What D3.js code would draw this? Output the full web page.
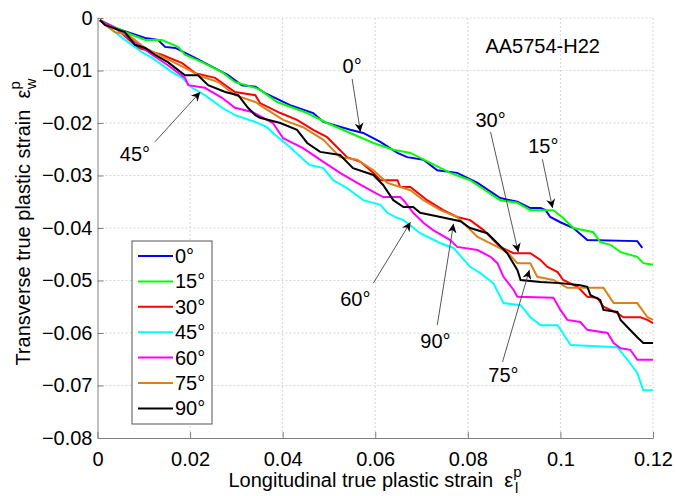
<!DOCTYPE html>
<html lang="en">
<head>
  <meta charset="UTF-8">
  <title>AA5754-H22 plastic strain</title>
  <script src="https://d3js.org/d3.v7.min.js"></script>
  <style>
    * { margin: 0; padding: 0; box-sizing: border-box; }
    body { background: #fff; font-family: Arial, "Liberation Sans", sans-serif; }
    text { font-family: Arial, "Liberation Sans", sans-serif; fill: #000; white-space: pre; }
  </style>
</head>
<body>
  <div id="chart"></div>

  <script>
    // series labels and colours (MATLAB style)
    const angles = ["0°", "15°", "30°", "45°", "60°", "75°", "90°"];
    const colors = ["#0000ff", "#00ff00", "#ff0000", "#00ffff", "#ff00ff", "#d9821a", "#000000"];

    const xTicks = [0, 0.02, 0.04, 0.06, 0.08, 0.1, 0.12];
    const yTicks = [0, -0.01, -0.02, -0.03, -0.04, -0.05, -0.06, -0.07, -0.08];

    // [longitudinal strain, transverse strain]
    const s0 = [[0.0005,-0.0004],[0.0038,-0.0019],[0.0103,-0.0038],[0.0131,-0.0042],[0.0146,-0.0055],[0.0168,-0.0057],[0.0211,-0.0076],[0.0248,-0.0093],[0.0282,-0.0109],[0.0312,-0.0128],[0.0341,-0.0131],[0.0362,-0.0143],[0.0416,-0.0166],[0.0466,-0.0181],[0.0488,-0.0198],[0.0546,-0.0213],[0.0574,-0.0219],[0.0611,-0.0236],[0.0648,-0.0257],[0.0669,-0.0265],[0.0704,-0.0270],[0.0734,-0.0290],[0.0777,-0.0295],[0.0821,-0.0314],[0.0870,-0.0343],[0.0907,-0.0350],[0.0935,-0.0362],[0.0957,-0.0362],[0.0968,-0.0366],[0.0978,-0.0379],[0.1000,-0.0389],[0.1028,-0.0400],[0.1058,-0.0423],[0.1166,-0.0425],[0.1177,-0.0438]];
    const s15 = [[0.0005,-0.0004],[0.0066,-0.0029],[0.0103,-0.0042],[0.0139,-0.0042],[0.0174,-0.0055],[0.0189,-0.0070],[0.0226,-0.0084],[0.0269,-0.0103],[0.0297,-0.0122],[0.0341,-0.0133],[0.0351,-0.0137],[0.0388,-0.0160],[0.0453,-0.0181],[0.0496,-0.0200],[0.0546,-0.0219],[0.0596,-0.0238],[0.0639,-0.0251],[0.0676,-0.0257],[0.0719,-0.0276],[0.0762,-0.0295],[0.0805,-0.0309],[0.0842,-0.0331],[0.0870,-0.0347],[0.0907,-0.0352],[0.0935,-0.0366],[0.0985,-0.0366],[0.1006,-0.0381],[0.1028,-0.0400],[0.1071,-0.0408],[0.1086,-0.0427],[0.1108,-0.0432],[0.1130,-0.0446],[0.1166,-0.0455],[0.1179,-0.0467],[0.12,-0.0470]];
    const s30 = [[0.0005,-0.0004],[0.0016,-0.0010],[0.0044,-0.0023],[0.0088,-0.0057],[0.0139,-0.0070],[0.0183,-0.0086],[0.0211,-0.0105],[0.0254,-0.0114],[0.0297,-0.0141],[0.0341,-0.0147],[0.0351,-0.0162],[0.0395,-0.0181],[0.0431,-0.0194],[0.0466,-0.0213],[0.0496,-0.0227],[0.0539,-0.0265],[0.0568,-0.0274],[0.0596,-0.0295],[0.0611,-0.0309],[0.0648,-0.0309],[0.0654,-0.0322],[0.0676,-0.0322],[0.0712,-0.0347],[0.0747,-0.0366],[0.0777,-0.0379],[0.0805,-0.0385],[0.0834,-0.0404],[0.0870,-0.0436],[0.0899,-0.0448],[0.0935,-0.0448],[0.0957,-0.0461],[0.0972,-0.0474],[0.0994,-0.0484],[0.1006,-0.0499],[0.1037,-0.0512],[0.1058,-0.0531],[0.1080,-0.0533],[0.1093,-0.0550],[0.1123,-0.0562],[0.1136,-0.0570],[0.1173,-0.0570],[0.1188,-0.0575],[0.12,-0.0581]];
    const s45 = [[0.0005,-0.0004],[0.0038,-0.0027],[0.0066,-0.0046],[0.0096,-0.0065],[0.0118,-0.0076],[0.0161,-0.0103],[0.0183,-0.0114],[0.0204,-0.0133],[0.0232,-0.0147],[0.0269,-0.0171],[0.0297,-0.0185],[0.0341,-0.0198],[0.0366,-0.0208],[0.0379,-0.0219],[0.0416,-0.0246],[0.0453,-0.0276],[0.0459,-0.0280],[0.0488,-0.0286],[0.0509,-0.0309],[0.0539,-0.0324],[0.0574,-0.0347],[0.0611,-0.0356],[0.0626,-0.0371],[0.0648,-0.0381],[0.0661,-0.0385],[0.0697,-0.0410],[0.0741,-0.0429],[0.0769,-0.0438],[0.0805,-0.0474],[0.0827,-0.0486],[0.0855,-0.0505],[0.0877,-0.0543],[0.0914,-0.0547],[0.0935,-0.0570],[0.0957,-0.0585],[0.0994,-0.0585],[0.1022,-0.0623],[0.1123,-0.0627],[0.1145,-0.0651],[0.1166,-0.0676],[0.1179,-0.0709],[0.12,-0.0709]];
    const s60 = [[0.0005,-0.0004],[0.0038,-0.0019],[0.0081,-0.0046],[0.0118,-0.0070],[0.0152,-0.0090],[0.0189,-0.0114],[0.0196,-0.0128],[0.0232,-0.0133],[0.0269,-0.0152],[0.0297,-0.0171],[0.0334,-0.0179],[0.0379,-0.0200],[0.0401,-0.0229],[0.0444,-0.0248],[0.0488,-0.0274],[0.0524,-0.0295],[0.0561,-0.0314],[0.0596,-0.0331],[0.0617,-0.0341],[0.0654,-0.0341],[0.0661,-0.0347],[0.0682,-0.0371],[0.0704,-0.0390],[0.0725,-0.0404],[0.0762,-0.0423],[0.0777,-0.0436],[0.0821,-0.0442],[0.0849,-0.0455],[0.0864,-0.0467],[0.0877,-0.0493],[0.0899,-0.0518],[0.0907,-0.0531],[0.0985,-0.0533],[0.1000,-0.0556],[0.1015,-0.0575],[0.1043,-0.0579],[0.1058,-0.0594],[0.1102,-0.0600],[0.1115,-0.0619],[0.1130,-0.0629],[0.1151,-0.0632],[0.1166,-0.0651],[0.12,-0.0651]];
    const s75 = [[0.0005,-0.0004],[0.0016,-0.0013],[0.0038,-0.0027],[0.0066,-0.0032],[0.0103,-0.0057],[0.0146,-0.0076],[0.0189,-0.0095],[0.0226,-0.0112],[0.0261,-0.0122],[0.0297,-0.0147],[0.0341,-0.0160],[0.0351,-0.0166],[0.0401,-0.0194],[0.0444,-0.0208],[0.0488,-0.0232],[0.0524,-0.0265],[0.0561,-0.0270],[0.0596,-0.0290],[0.0626,-0.0314],[0.0654,-0.0322],[0.0676,-0.0328],[0.0704,-0.0347],[0.0741,-0.0366],[0.0777,-0.0379],[0.0799,-0.0398],[0.0821,-0.0417],[0.0864,-0.0436],[0.0885,-0.0446],[0.0907,-0.0467],[0.0935,-0.0467],[0.0950,-0.0493],[0.0985,-0.0499],[0.1015,-0.0514],[0.1093,-0.0514],[0.1115,-0.0543],[0.1166,-0.0543],[0.1188,-0.0570],[0.12,-0.0575]];
    const s90 = [[0.0005,-0.0004],[0.0016,-0.0013],[0.0059,-0.0027],[0.0081,-0.0051],[0.0103,-0.0057],[0.0124,-0.0070],[0.0152,-0.0084],[0.0168,-0.0095],[0.0189,-0.0109],[0.0217,-0.0109],[0.0239,-0.0128],[0.0276,-0.0141],[0.0304,-0.0147],[0.0325,-0.0171],[0.0341,-0.0185],[0.0351,-0.0190],[0.0395,-0.0200],[0.0431,-0.0213],[0.0453,-0.0238],[0.0481,-0.0255],[0.0524,-0.0261],[0.0552,-0.0286],[0.0596,-0.0299],[0.0617,-0.0318],[0.0639,-0.0347],[0.0661,-0.0360],[0.0682,-0.0360],[0.0697,-0.0371],[0.0741,-0.0379],[0.0784,-0.0387],[0.0805,-0.0400],[0.0842,-0.0410],[0.0864,-0.0429],[0.0885,-0.0448],[0.0907,-0.0480],[0.0914,-0.0499],[0.0957,-0.0503],[0.1000,-0.0505],[0.1043,-0.0509],[0.1058,-0.0512],[0.1065,-0.0528],[0.1086,-0.0537],[0.1093,-0.0556],[0.1123,-0.0560],[0.1130,-0.0575],[0.1145,-0.0589],[0.1166,-0.0608],[0.1179,-0.0619],[0.12,-0.0619]];

    const series = [s0, s15, s30, s45, s60, s75, s90];

    // arrow notes: label, text spot, arrow tail, arrow tip (data units)
    const notes = [
      { label: "0°",  text: [0.0550, -0.0105], tail: [0.0550, -0.0116], tip: [0.0568, -0.0217] },
      { label: "15°", text: [0.0963, -0.0257], tail: [0.0961, -0.0269], tip: [0.0983, -0.0362] },
      { label: "30°", text: [0.0849, -0.0208], tail: [0.0849, -0.0217], tip: [0.0909, -0.0446] },
      { label: "45°", text: [0.0081, -0.0272], tail: [0.0124, -0.0236], tip: [0.0222, -0.0141] },
      { label: "60°", text: [0.0557, -0.0549], tail: [0.0596, -0.0505], tip: [0.0676, -0.0389] },
      { label: "90°", text: [0.0730, -0.0629], tail: [0.0734, -0.0585], tip: [0.0769, -0.0392] },
      { label: "75°", text: [0.0877, -0.0693], tail: [0.0875, -0.0655], tip: [0.0933, -0.0480] }
    ];

    const W = 676, H = 496;
    const margin = { top: 18, right: 23, bottom: 58, left: 97.5 };
    const width = W - margin.left - margin.right,
          height = H - margin.top - margin.bottom;

    const root = d3.select("#chart").append("svg")
      .attr("width", W).attr("height", H);

    root.append("defs").append("marker")
      .attr("id", "head")
      .attr("viewBox", "0 0 10 10")
      .attr("refX", 10).attr("refY", 5)
      .attr("markerWidth", 11).attr("markerHeight", 9)
      .attr("markerUnits", "userSpaceOnUse")
      .attr("orient", "auto")
      .append("path")
      .attr("d", "M0,0 L10,5 L0,10 L3,5 Z")
      .attr("fill", "#000");

    const svg = root.append("g")
      .attr("transform", `translate(${margin.left},${margin.top})`);

    const x = d3.scaleLinear().domain([0, 0.12]).range([0, width]);
    const y = d3.scaleLinear().domain([-0.08, 0]).range([height, 0]);

    // dotted grid
    svg.append("g")
      .selectAll("line.gx")
      .data(xTicks.slice(1))
      .join("line")
      .attr("x1", d => x(d)).attr("x2", d => x(d))
      .attr("y1", 0).attr("y2", height)
      .attr("stroke", "#d6d6d6").attr("stroke-dasharray", "2,2");

    svg.append("g")
      .selectAll("line.gy")
      .data(yTicks.slice(0, -1))
      .join("line")
      .attr("x1", 0).attr("x2", width)
      .attr("y1", d => y(d)).attr("y2", d => y(d))
      .attr("stroke", "#d6d6d6").attr("stroke-dasharray", "2,2");

    // axes, ticks pointing inwards
    const fmt = d => d === 0 ? "0" : d3.format("")(+d.toFixed(2));

    const xAxis = svg.append("g")
      .attr("transform", `translate(0,${height})`)
      .call(d3.axisBottom(x).tickValues(xTicks).tickFormat(fmt).tickSize(-6).tickSizeOuter(0).tickPadding(10));

    const yAxis = svg.append("g")
      .call(d3.axisLeft(y).tickValues(yTicks).tickFormat(fmt).tickSize(-6).tickSizeOuter(0).tickPadding(5));

    [xAxis, yAxis].forEach(a => {
      a.select(".domain").attr("stroke", "#808080");
      a.selectAll(".tick line").attr("stroke", "#808080");
      a.selectAll(".tick text")
        .style("font-size", "20px")
        .style("font-family", "Arial, 'Liberation Sans', sans-serif")
        .attr("fill", "#000");
    });
    xAxis.selectAll(".tick text").attr("dy", "0.9em");

    // curves
    const line = d3.line()
      .x(d => x(d[0]))
      .y(d => y(d[1]));

    svg.append("g")
      .selectAll("path")
      .data(series)
      .join("path")
      .attr("d", line)
      .attr("fill", "none")
      .attr("stroke", (d, i) => colors[i])
      .attr("stroke-width", 2)
      .attr("stroke-linejoin", "miter");

    // annotation arrows
    const ann = svg.append("g");
    ann.selectAll("line")
      .data(notes)
      .join("line")
      .attr("x1", d => x(d.tail[0])).attr("y1", d => y(d.tail[1]))
      .attr("x2", d => x(d.tip[0])).attr("y2", d => y(d.tip[1]))
      .attr("stroke", "#444")
      .attr("stroke-width", 0.9)
      .attr("marker-end", "url(#head)");

    ann.selectAll("text")
      .data(notes)
      .join("text")
      .attr("x", d => x(d.text[0]))
      .attr("y", d => y(d.text[1]))
      .attr("text-anchor", "middle")
      .style("font-size", "20px")
      .text(d => d.label);

    svg.append("text")
      .attr("x", x(0.0838))
      .attr("y", y(-0.0067))
      .style("font-size", "20px")
      .text("AA5754-H22");

    // legend
    const lg = svg.append("g").attr("transform", "translate(34.5,223)");
    lg.append("rect")
      .attr("width", 80).attr("height", 183)
      .attr("fill", "#fff")
      .attr("stroke", "#555").attr("stroke-width", 1);

    const item = lg.selectAll("g.item")
      .data(angles)
      .join("g")
      .attr("transform", (d, i) => `translate(0,${15 + i * 25.4})`);
    item.append("line")
      .attr("x1", 6).attr("x2", 41)
      .attr("stroke", (d, i) => colors[i])
      .attr("stroke-width", 2);
    item.append("text")
      .attr("x", 43).attr("dy", "0.35em")
      .style("font-size", "20px")
      .text(d => d);

    // axis titles with epsilon sub/superscripts
    const xt = root.append("text")
      .attr("x", 375).attr("y", 487)
      .attr("text-anchor", "middle")
      .style("font-size", "20px");
    xt.append("tspan").text("Longitudinal true plastic strain  ε");
    xt.append("tspan").attr("dy", -10).style("font-size", "15px").text("p");
    xt.append("tspan").attr("dx", -6.5).attr("dy", 16).style("font-size", "15px").text("l");

    const yt = root.append("text")
      .attr("transform", "translate(30,222) rotate(-90)")
      .attr("text-anchor", "middle")
      .style("font-size", "20px");
    yt.append("tspan").text("Transverse true plastic strain  ε");
    yt.append("tspan").attr("dy", -10).style("font-size", "15px").text("p");
    yt.append("tspan").attr("dx", -8).attr("dy", 16).style("font-size", "15px").text("w");
  </script>
</body>
</html>
